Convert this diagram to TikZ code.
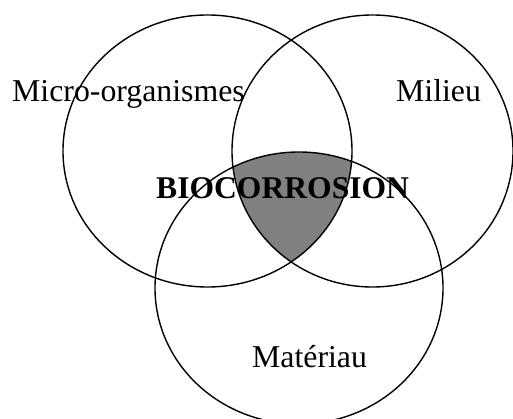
\documentclass[tikz,border=0pt]{standalone}
\usepackage{fontspec}
\setmainfont{Liberation Serif}
\tikzset{
  ring/.style={draw=black, line width=1.4pt},
  lbl/.style={anchor=base west, inner sep=0pt, font=\fontsize{31.8}{36}\selectfont},
  blbl/.style={lbl, font=\fontsize{31.6}{36}\selectfont\bfseries},
}
\begin{document}
\begin{tikzpicture}[x=1pt,y=-1pt]
\useasboundingbox (0,0) rectangle (513,419);
\begin{scope}
  \clip (207.5,151) ellipse [x radius=144.5, y radius=136];
  \clip (372.5,151) ellipse [x radius=140.5, y radius=136];
  \fill[fill={rgb,255:red,128;green,128;blue,128}] (299,288) ellipse [x radius=144, y radius=136];
\end{scope}
\draw[ring] (207.5,151) ellipse [x radius=144.5, y radius=136];
\draw[ring] (372.5,151) ellipse [x radius=140.5, y radius=136];
\draw[ring] (299,288) ellipse [x radius=144, y radius=136];
\node[lbl] (micro) at (12,102) {Micro-organismes};
\node[lbl] (milieu) at (396,102) {Milieu};
\node[blbl] (bio) at (156,199) {BIOCORROSION};
\node[lbl] (mat) at (252,367) {Matériau};
\end{tikzpicture}
\end{document}
